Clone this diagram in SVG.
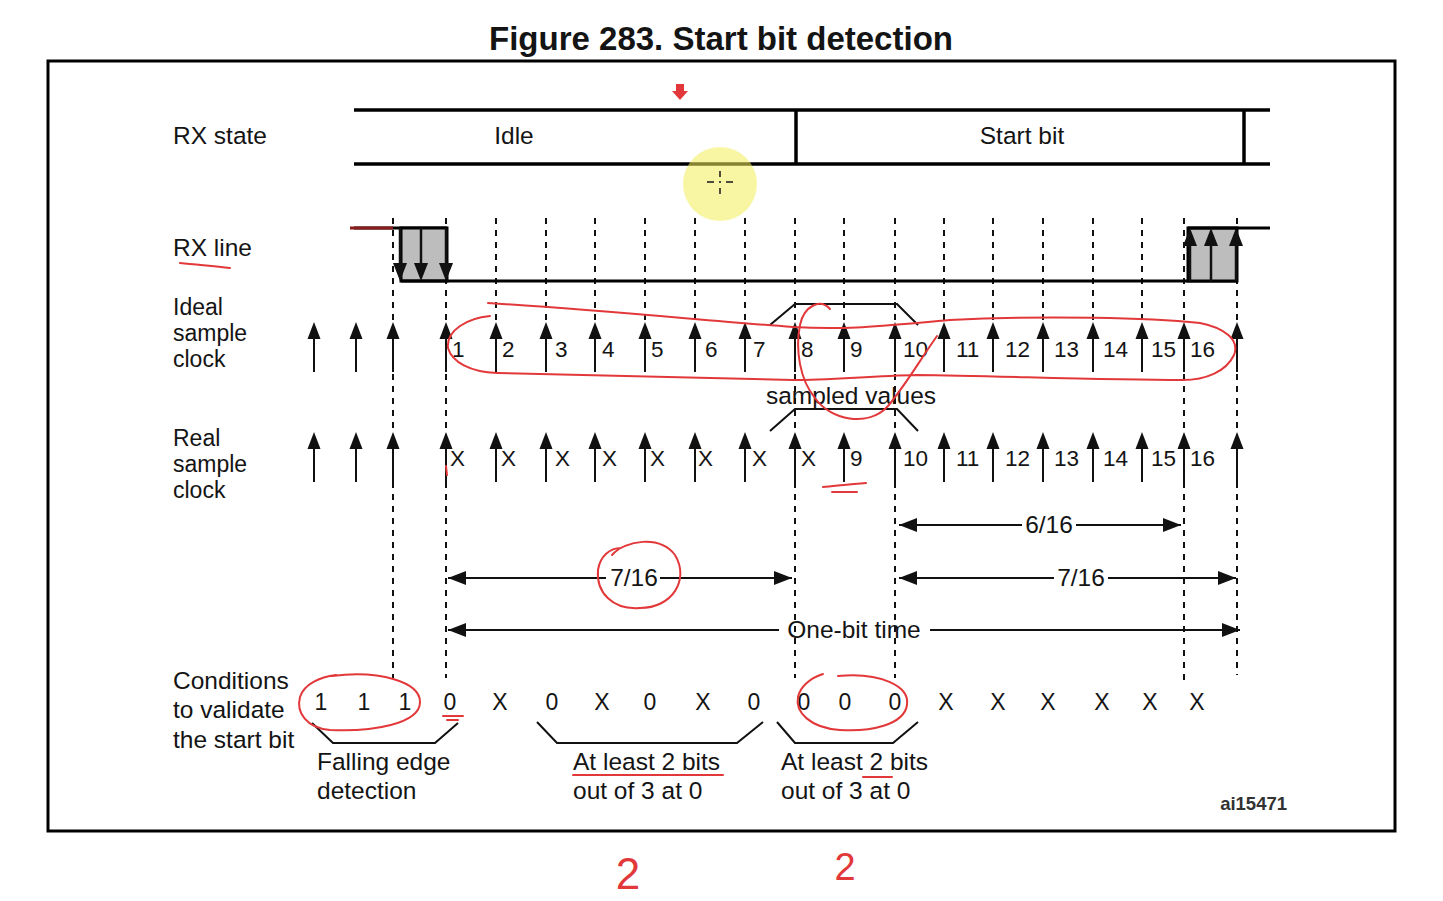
<svg xmlns="http://www.w3.org/2000/svg" xmlns:xlink="http://www.w3.org/1999/xlink" width="1443" height="901" viewBox="0 0 1443 901">
<style>
text{font-family:"Liberation Sans",Arial,sans-serif;fill:#141414}
.lbl{font-size:24.5px}
.stk{font-size:23px}
.dig{font-size:22.5px}
.cond{font-size:23px;text-anchor:middle}
.mid{text-anchor:middle}
.thick{stroke:#000;stroke-width:3.5;fill:none}
.line{stroke:#000;stroke-width:3;fill:none}
.thin{stroke:#111;stroke-width:2;fill:none}
.dash{stroke:#111;stroke-width:2;stroke-dasharray:6 6;fill:none}
.dim{stroke:#111;stroke-width:2;fill:none}
.red{stroke:#e2383a;stroke-width:2;fill:none;stroke-linecap:round;stroke-linejoin:round}
.redf{fill:#e2383a}
</style>
<defs>
<marker id="ah" viewBox="0 0 18 14" refX="18" refY="7" markerWidth="18" markerHeight="14" markerUnits="userSpaceOnUse" orient="auto-start-reverse">
<path d="M0 0 L18 7 L0 14 Z" fill="#111"/>
</marker>
<g id="up">
<line x1="0" y1="14" x2="0" y2="50" stroke="#111" stroke-width="2"/>
<path d="M0 0 L-6.5 17 L6.5 17 Z" fill="#111"/>
</g>
<g id="dn">
<line x1="0" y1="0" x2="0" y2="38" stroke="#111" stroke-width="2.5"/>
<path d="M0 53 L-7 35 L7 35 Z" fill="#111"/>
</g>
<g id="upr">
<line x1="0" y1="15" x2="0" y2="53" stroke="#111" stroke-width="2.5"/>
<path d="M0 0 L-7 18 L7 18 Z" fill="#111"/>
</g>
</defs>

<rect x="0" y="0" width="1443" height="901" fill="#fff"/>

<g id="title">
<text x="721" y="50" class="mid" style="font-size:33px;font-weight:bold">Figure 283. Start bit detection</text>
</g>

<g id="frame">
<rect x="48" y="61" width="1347" height="770" fill="none" stroke="#000" stroke-width="3"/>
</g>

<g id="row-labels">
<text x="173" y="144" class="lbl">RX state</text>
<text x="173" y="256" class="lbl">RX line</text>
<text x="173" y="315" class="stk">Ideal</text>
<text x="173" y="341" class="stk">sample</text>
<text x="173" y="367" class="stk">clock</text>
<text x="173" y="446" class="stk">Real</text>
<text x="173" y="472" class="stk">sample</text>
<text x="173" y="498" class="stk">clock</text>
<text x="173" y="689" class="lbl">Conditions</text>
<text x="173" y="718" class="lbl">to validate</text>
<text x="173" y="748" class="lbl">the start bit</text>
</g>

<g id="rx-state">
<line x1="354" y1="110" x2="1270" y2="110" class="thick"/>
<line x1="354" y1="164" x2="1270" y2="164" class="thick"/>
<line x1="796" y1="110" x2="796" y2="164" class="thick"/>
<line x1="1244" y1="110" x2="1244" y2="164" class="thick"/>
<text x="514" y="144" class="lbl mid">Idle</text>
<text x="1022" y="144" class="lbl mid">Start bit</text>
</g>

<g id="connectors">
<g class="dash">
<line x1="496" y1="218" x2="496" y2="322"/>
<line x1="546" y1="218" x2="546" y2="322"/>
<line x1="595" y1="218" x2="595" y2="322"/>
<line x1="645" y1="218" x2="645" y2="322"/>
<line x1="695" y1="218" x2="695" y2="322"/>
<line x1="745" y1="218" x2="745" y2="322"/>
<line x1="844" y1="218" x2="844" y2="322"/>
<line x1="944" y1="218" x2="944" y2="322"/>
<line x1="993" y1="218" x2="993" y2="322"/>
<line x1="1043" y1="218" x2="1043" y2="322"/>
<line x1="1093" y1="218" x2="1093" y2="322"/>
<line x1="1142" y1="218" x2="1142" y2="322"/>
<line x1="393" y1="218" x2="393" y2="678"/>
<line x1="446" y1="218" x2="446" y2="678"/>
<line x1="795" y1="218" x2="795" y2="678"/>
<line x1="895" y1="218" x2="895" y2="678"/>
<line x1="1184" y1="218" x2="1184" y2="680"/>
<line x1="1237" y1="218" x2="1237" y2="675"/>
</g>
<line x1="899" y1="525" x2="1022" y2="525" class="dim" marker-start="url(#ah)"/>
<line x1="1076" y1="525" x2="1181" y2="525" class="dim" marker-end="url(#ah)"/>
<line x1="448" y1="578" x2="606" y2="578" class="dim" marker-start="url(#ah)"/>
<line x1="660" y1="578" x2="792" y2="578" class="dim" marker-end="url(#ah)"/>
<line x1="899" y1="578" x2="1054" y2="578" class="dim" marker-start="url(#ah)"/>
<line x1="1108" y1="578" x2="1236" y2="578" class="dim" marker-end="url(#ah)"/>
<line x1="448" y1="630" x2="779" y2="630" class="dim" marker-start="url(#ah)"/>
<line x1="930" y1="630" x2="1240" y2="630" class="dim" marker-end="url(#ah)"/>
<polyline points="770,325 795,304 897,304 918,325" class="thin"/>
<polyline points="770,431 795,409 897,409 918,431" class="thin"/>
<polyline points="312,723 333,743 435,743 458,723" class="thin"/>
<polyline points="537,722 557,743 737,743 763,722" class="thin"/>
<polyline points="777,722 795,743 893,743 918,722" class="thin"/>
</g>

<g id="rx-line">
<line x1="354" y1="228" x2="447" y2="228" class="line"/>
<rect x="401" y="228" width="46" height="53" fill="#bdbdbd" stroke="#000" stroke-width="3"/>
<use xlink:href="#dn" x="400" y="228"/>
<use xlink:href="#dn" x="421" y="228"/>
<use xlink:href="#dn" x="446" y="228"/>
<line x1="401" y1="281" x2="1237" y2="281" class="line"/>
<rect x="1188" y="228" width="49" height="53" fill="#bdbdbd" stroke="#000" stroke-width="3"/>
<line x1="1188" y1="228" x2="1270" y2="228" class="line"/>
<use xlink:href="#upr" x="1190" y="228"/>
<use xlink:href="#upr" x="1211" y="228"/>
<use xlink:href="#upr" x="1236" y="228"/>
</g>

<g id="ideal-clock">
<use xlink:href="#up" x="314" y="322"/>
<use xlink:href="#up" x="356" y="322"/>
<use xlink:href="#up" x="393" y="322"/>
<use xlink:href="#up" x="446" y="322"/>
<use xlink:href="#up" x="496" y="322"/>
<use xlink:href="#up" x="546" y="322"/>
<use xlink:href="#up" x="595" y="322"/>
<use xlink:href="#up" x="645" y="322"/>
<use xlink:href="#up" x="695" y="322"/>
<use xlink:href="#up" x="745" y="322"/>
<use xlink:href="#up" x="795" y="322"/>
<use xlink:href="#up" x="844" y="322"/>
<use xlink:href="#up" x="895" y="322"/>
<use xlink:href="#up" x="944" y="322"/>
<use xlink:href="#up" x="993" y="322"/>
<use xlink:href="#up" x="1043" y="322"/>
<use xlink:href="#up" x="1093" y="322"/>
<use xlink:href="#up" x="1142" y="322"/>
<use xlink:href="#up" x="1184" y="322"/>
<use xlink:href="#up" x="1237" y="322"/>
<text x="452" y="357" class="dig">1</text>
<text x="502" y="357" class="dig">2</text>
<text x="555" y="357" class="dig">3</text>
<text x="602" y="357" class="dig">4</text>
<text x="651" y="357" class="dig">5</text>
<text x="705" y="357" class="dig">6</text>
<text x="753" y="357" class="dig">7</text>
<text x="801" y="357" class="dig">8</text>
<text x="850" y="357" class="dig">9</text>
<text x="903" y="357" class="dig">10</text>
<text x="956" y="357" class="dig">11</text>
<text x="1005" y="357" class="dig">12</text>
<text x="1054" y="357" class="dig">13</text>
<text x="1103" y="357" class="dig">14</text>
<text x="1151" y="357" class="dig">15</text>
<text x="1190" y="357" class="dig">16</text>
<text x="851" y="404" class="lbl mid">sampled values</text>
</g>

<g id="real-clock">
<use xlink:href="#up" x="314" y="432"/>
<use xlink:href="#up" x="356" y="432"/>
<use xlink:href="#up" x="393" y="432"/>
<use xlink:href="#up" x="446" y="432"/>
<use xlink:href="#up" x="496" y="432"/>
<use xlink:href="#up" x="546" y="432"/>
<use xlink:href="#up" x="595" y="432"/>
<use xlink:href="#up" x="645" y="432"/>
<use xlink:href="#up" x="695" y="432"/>
<use xlink:href="#up" x="745" y="432"/>
<use xlink:href="#up" x="795" y="432"/>
<use xlink:href="#up" x="844" y="432"/>
<use xlink:href="#up" x="895" y="432"/>
<use xlink:href="#up" x="944" y="432"/>
<use xlink:href="#up" x="993" y="432"/>
<use xlink:href="#up" x="1043" y="432"/>
<use xlink:href="#up" x="1093" y="432"/>
<use xlink:href="#up" x="1142" y="432"/>
<use xlink:href="#up" x="1184" y="432"/>
<use xlink:href="#up" x="1237" y="432"/>
<text x="450" y="466" class="dig">X</text>
<text x="501" y="466" class="dig">X</text>
<text x="555" y="466" class="dig">X</text>
<text x="602" y="466" class="dig">X</text>
<text x="650" y="466" class="dig">X</text>
<text x="698" y="466" class="dig">X</text>
<text x="752" y="466" class="dig">X</text>
<text x="801" y="466" class="dig">X</text>
<text x="850" y="466" class="dig">9</text>
<text x="903" y="466" class="dig">10</text>
<text x="956" y="466" class="dig">11</text>
<text x="1005" y="466" class="dig">12</text>
<text x="1054" y="466" class="dig">13</text>
<text x="1103" y="466" class="dig">14</text>
<text x="1151" y="466" class="dig">15</text>
<text x="1190" y="466" class="dig">16</text>
</g>

<g id="dimension-labels">
<text x="1049" y="533" class="lbl mid">6/16</text>
<text x="634" y="586" class="lbl mid">7/16</text>
<text x="1081" y="586" class="lbl mid">7/16</text>
<text x="854" y="638" class="lbl mid">One-bit time</text>
</g>

<g id="conditions">
<text x="321" y="710" class="cond">1</text>
<text x="364" y="710" class="cond">1</text>
<text x="405" y="710" class="cond">1</text>
<text x="450" y="710" class="cond">0</text>
<text x="500" y="710" class="cond">X</text>
<text x="552" y="710" class="cond">0</text>
<text x="602" y="710" class="cond">X</text>
<text x="650" y="710" class="cond">0</text>
<text x="703" y="710" class="cond">X</text>
<text x="754" y="710" class="cond">0</text>
<text x="804" y="710" class="cond">0</text>
<text x="845" y="710" class="cond">0</text>
<text x="895" y="710" class="cond">0</text>
<text x="946" y="710" class="cond">X</text>
<text x="998" y="710" class="cond">X</text>
<text x="1048" y="710" class="cond">X</text>
<text x="1102" y="710" class="cond">X</text>
<text x="1150" y="710" class="cond">X</text>
<text x="1197" y="710" class="cond">X</text>
</g>

<g id="bracket-labels">
<text x="317" y="770" class="lbl">Falling edge</text>
<text x="317" y="799" class="lbl">detection</text>
<text x="573" y="770" class="lbl">At least 2 bits</text>
<text x="573" y="799" class="lbl">out of 3 at 0</text>
<text x="781" y="770" class="lbl">At least 2 bits</text>
<text x="781" y="799" class="lbl">out of 3 at 0</text>
<text x="1287" y="810" style="font-size:18.5px;font-weight:bold;text-anchor:end;fill:#333">ai15471</text>
</g>

<g id="annotations">
<circle cx="720" cy="184" r="37" fill="#f2ee55" opacity="0.55"/>
<g stroke="#222" stroke-width="1.6">
<line x1="720" y1="171" x2="720" y2="177"/>
<line x1="720" y1="188" x2="720" y2="194"/>
<line x1="707" y1="182" x2="714" y2="182"/>
<line x1="726" y1="182" x2="733" y2="182"/>
<line x1="720" y1="181" x2="720" y2="183"/>
</g>
<path d="M676 84 H684 V91 H688 L680 100 L672 91 H676 Z" class="redf"/>
<line x1="350" y1="228" x2="393" y2="228" stroke="#8b1a1a" stroke-width="3"/>
<path d="M180 263 C198 265 214 266 230 268" class="red"/>
<path d="M488 303 C600 310 700 320 793 327 C850 330 880 326 950 320 C1050 315 1150 318 1200 323 C1225 328 1240 340 1234 355 C1226 372 1205 380 1183 380 C1100 380 1000 376 917 375 C870 376 830 380 793 380 C700 378 600 375 497 373 C470 372 452 362 448 348 C446 330 468 318 490 316" class="red"/>
<path d="M830 309 C820 298 804 306 800 325 C795 350 800 380 815 398 C830 420 868 428 888 406 C905 386 920 360 937 336" class="red"/>
<path d="M446 466 L447 475" class="red"/>
<path d="M823 487 C835 486 850 484 866 483" class="red"/>
<path d="M832 492 L857 492" class="red"/>
<path d="M612 555 C625 540 660 535 675 555 C690 580 672 608 640 608 C612 610 596 592 598 570 C600 556 610 548 621 548" class="red"/>
<path d="M332 676 C380 670 420 682 420 702 C420 724 372 732 330 730 C306 728 296 712 300 697 C304 684 320 677 336 675" class="red"/>
<path d="M443 716 L463 716 M447 720 L458 720" class="red"/>
<path d="M838 676 C880 672 910 686 907 705 C904 725 870 732 840 730 C810 728 795 712 798 697 C800 687 810 678 823 674" class="red"/>
<path d="M573 775 L723 775" class="red"/>
<path d="M863 777 L892 777" class="red" stroke-width="3"/>
<text x="628" y="889" class="mid" style="font-size:44px;fill:#e2383a">2</text>
<text x="845" y="880" class="mid" style="font-size:38px;fill:#e2383a">2</text>
</g>
</svg>
